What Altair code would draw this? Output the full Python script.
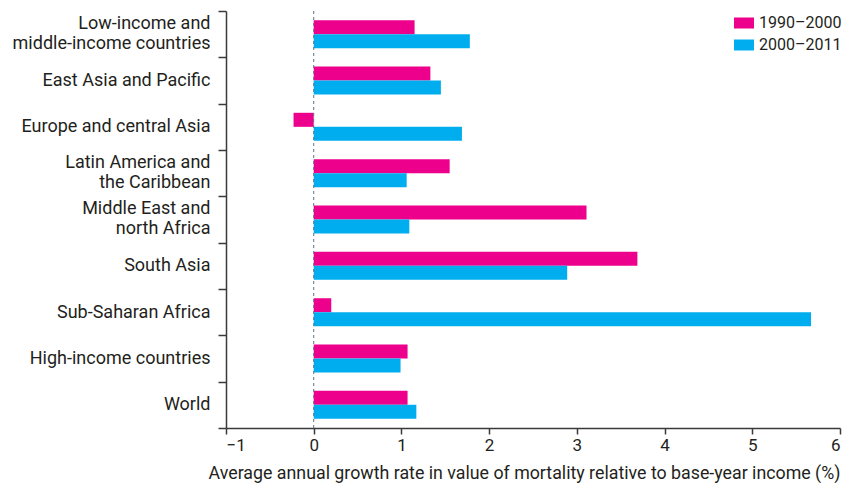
import altair as alt
import pandas as pd

categories = [
    "Low-income and|middle-income countries",
    "East Asia and Pacific",
    "Europe and central Asia",
    "Latin America and|the Caribbean",
    "Middle East and|north Africa",
    "South Asia",
    "Sub-Saharan Africa",
    "High-income countries",
    "World",
]
series_names = ["1990–2000", "2000–2011"]
values_1990_2000 = [1.15, 1.33, -0.23, 1.55, 3.11, 3.69, 0.20, 1.07, 1.07]
values_2000_2011 = [1.78, 1.45, 1.69, 1.06, 1.09, 2.89, 5.67, 0.99, 1.17]
x_ticks = [-1, 0, 1, 2, 3, 4, 5, 6]
colors = ["#EC008C", "#00AEEF"]

rows = []
for c, a, b in zip(categories, values_1990_2000, values_2000_2011):
    rows.append({"region": c, "period": series_names[0], "value": a})
    rows.append({"region": c, "period": series_names[1], "value": b})
df = pd.DataFrame(rows)

FONT = "Roboto"
TXT = "#231F20"

x_enc = alt.X(
    "value:Q",
    scale=alt.Scale(domain=[-1, 6], nice=False, zero=False),
    axis=alt.Axis(
        values=x_ticks,
        format="d",
        title="Average annual growth rate in value of mortality relative to base-year income (%)",
        grid=False,
        tickSize=6,
        labelPadding=3,
        labelFontSize=17,
        labelFlush=4,
        titleFontSize=17.8,
        titleX=298,
        titleY=36,
        titleAlign="center",
        titleBaseline="top",
    ),
)

bars = alt.Chart(df).mark_bar(cornerRadius=0).encode(
    x=x_enc,
    y=alt.Y(
        "region:N",
        sort=categories,
        scale=alt.Scale(paddingInner=0, paddingOuter=0),
        axis=alt.Axis(
            title=None,
            tickBand="extent",
            tickSize=8,
            labelPadding=8,
            labelFontSize=18,
            labelLimit=400,
            labelExpr="split(datum.label, '|')",
            labelLineHeight=20,
            labelOffset={
                "condition": {"test": "indexof(datum.label, '|') >= 0", "value": -11},
                "value": 0,
            },
        ),
    ),
    yOffset=alt.YOffset(
        "period:N",
        sort=series_names,
        scale=alt.Scale(paddingInner=0, paddingOuter=0.65),
    ),
    color=alt.Color(
        "period:N",
        sort=series_names,
        scale=alt.Scale(domain=series_names, range=colors),
        legend=alt.Legend(
            title=None,
            orient="none",
            legendX=508,
            legendY=2,
            symbolType="M-1,-0.55H1V0.55H-1Z",
            symbolSize=400,
            symbolStrokeWidth=0,
            labelOffset=5,
            rowPadding=4,
            labelFontSize=16,
            labelFont=FONT,
            labelColor=TXT,
        ),
    ),
)

zero_df = pd.DataFrame({"value": [0]})
zero_rule = alt.Chart(zero_df).mark_rule(
    color="#5B7384", strokeDash=[3, 3], strokeWidth=1
).encode(x=alt.X("value:Q"))

chart = alt.layer(bars, zero_rule).properties(
    width=614,
    height=417,
    padding={"left": 218, "top": 3, "right": 2, "bottom": 56},
    autosize="none",
).configure_view(stroke=None).configure_axis(
    labelFont=FONT,
    titleFont=FONT,
    titleFontWeight="normal",
    labelColor=TXT,
    titleColor=TXT,
    domainColor="#3A3A3A",
    tickColor="#3A3A3A",
    domainWidth=1.5,
    tickWidth=1.5,
)

chart.save("out.html", embed_options={"renderer": "svg", "actions": False})
